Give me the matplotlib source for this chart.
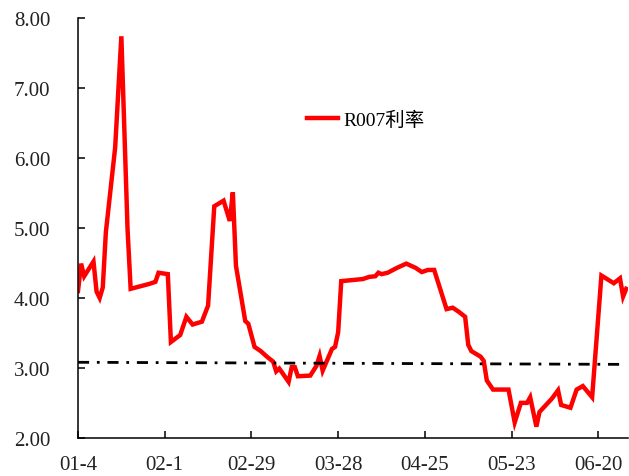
import matplotlib
matplotlib.use("Agg")
import matplotlib.pyplot as plt
import pandas as pd

# R007 repo rate, 2016
dates = ["01-04", "01-05", "01-06", "01-09", "01-10", "01-11", "01-12", "01-13",
         "01-16", "01-18", "01-20", "01-21", "01-27", "01-29", "01-30",
         "02-02", "02-03", "02-06", "02-08", "02-10", "02-13", "02-15", "02-17",
         "02-20", "02-22", "02-23", "02-24", "02-27", "02-28",
         "03-01", "03-03", "03-05", "03-07", "03-08", "03-09", "03-12", "03-13",
         "03-14", "03-15", "03-19", "03-21", "03-22", "03-23", "03-26", "03-27",
         "03-28", "03-29",
         "04-05", "04-07", "04-09", "04-10", "04-11", "04-13", "04-16", "04-19",
         "04-22", "04-24", "04-26", "04-28",
         "05-02", "05-04", "05-06", "05-08", "05-09", "05-10", "05-13", "05-14",
         "05-15", "05-17", "05-22", "05-24", "05-26", "05-28", "05-29", "05-31",
         "06-01", "06-05", "06-07", "06-08", "06-11", "06-13", "06-15", "06-18",
         "06-21", "06-25", "06-27", "06-28", "06-29"]
r007 = [4.10, 4.49, 4.31, 4.52, 4.09, 4.00, 4.15, 4.94,
        6.15, 7.74, 4.98, 4.13, 4.20, 4.23, 4.36,
        4.34, 3.37, 3.47, 3.73, 3.62, 3.66, 3.89, 5.31,
        5.39, 5.10, 5.51, 4.46, 3.67, 3.63,
        3.30, 3.24, 3.16, 3.09, 2.95, 2.99, 2.80, 3.01,
        3.01, 2.88, 2.89, 3.03, 3.17, 2.96, 3.27, 3.30,
        3.51, 4.24,
        4.27, 4.30, 4.31, 4.36, 4.34, 4.36, 4.43, 4.49,
        4.43, 4.37, 4.40, 4.40,
        3.84, 3.86, 3.80, 3.73, 3.33, 3.24, 3.16, 3.10,
        2.82, 2.69, 2.69, 2.22, 2.50, 2.50, 2.58, 2.16,
        2.37, 2.56, 2.68, 2.47, 2.43, 2.69, 2.74, 2.58,
        4.32, 4.21, 4.28, 4.02, 4.13]

# trend line end points
trend_dates = ["01-04", "06-29"]
trend_vals = [3.08, 3.05]

year = "2016-"
x = pd.to_datetime([year + d for d in dates])
xt = pd.to_datetime([year + d for d in trend_dates])

fig = plt.figure(figsize=(6.29, 4.77), dpi=100)
ax = fig.add_axes([0.124, 0.080, 0.874, 0.880])

ax.plot(x, r007, color="#ff0000", lw=3.2, label="R007利率", solid_joinstyle="miter")
ax.plot(xt, trend_vals, color="black", lw=2, linestyle=(0, (4, 2.8, 1, 2.8)))

start = pd.Timestamp("2016-01-04")
ax.set_xlim(start, start + pd.Timedelta(days=177.5))
ax.set_ylim(2, 8)

ticks = pd.date_range(start, periods=7, freq="28D")
ax.set_xticks(ticks)
ax.set_xticklabels([f"{t.month:02d}-{t.day}" for t in ticks])
ax.set_yticks([2, 3, 4, 5, 6, 7, 8])
ax.set_yticklabels([f"{v:.2f}" for v in range(2, 9)])

for lab in ax.get_xticklabels() + ax.get_yticklabels():
    lab.set_fontfamily("Liberation Serif")
    lab.set_fontsize(15)
    lab.set_color("#222222")

ax.tick_params(axis="y", direction="in", length=5, width=1.1, pad=20)
ax.tick_params(axis="x", direction="in", length=5, width=1.1, pad=12)
for side in ("top", "right"):
    ax.spines[side].set_visible(False)
for side in ("left", "bottom"):
    ax.spines[side].set_linewidth(1.1)

ax.legend(loc="center left", bbox_to_anchor=(0.4164, 0.757), frameon=False,
          borderaxespad=0, borderpad=0, handlelength=1.6, handletextpad=0.3,
          prop={"family": ["Liberation Serif", "Noto Sans CJK SC"], "size": 14})

fig.savefig("out.png", dpi=100)
